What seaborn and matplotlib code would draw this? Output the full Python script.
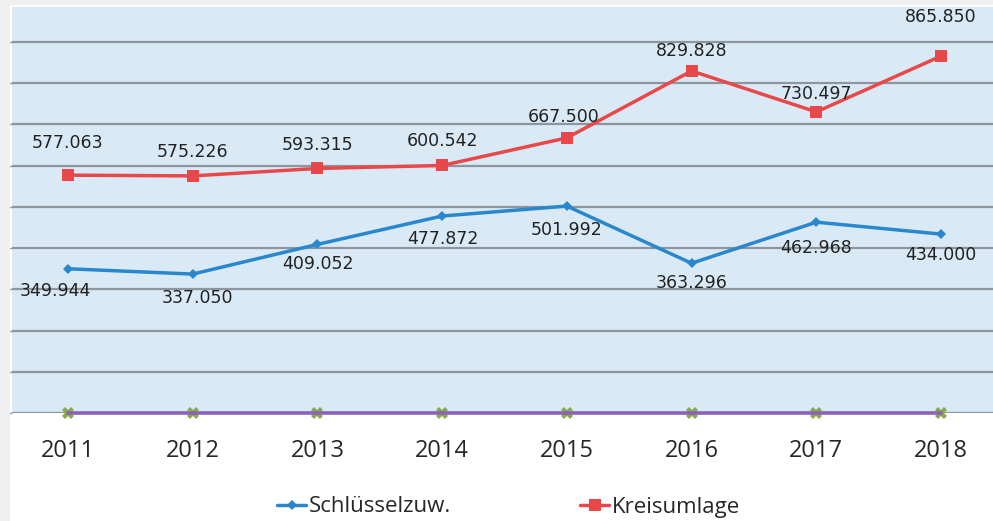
import matplotlib
matplotlib.use("Agg")
import matplotlib.pyplot as plt
from matplotlib.patches import Rectangle
import seaborn as sns
import pandas as pd

# chart data
years = [2011, 2012, 2013, 2014, 2015, 2016, 2017, 2018]
schluessel = [349.944, 337.050, 409.052, 477.872, 501.992, 363.296, 462.968, 434.000]
kreisumlage = [577.063, 575.226, 593.315, 600.542, 667.500, 829.828, 730.497, 865.850]
reihe3 = [0, 0, 0, 0, 0, 0, 0, 0]
reihe4 = [0, 0, 0, 0, 0, 0, 0, 0]

# label offsets in pixels (dx, dy), layout only
blue_off = [(-13, -22), (5, -24), (1, -20), (1, -23), (0, -24), (0, -20), (0, -26), (0, -21)]
red_off = [(0, 32), (0, 24), (0, 23), (0, 24), (-3, 21), (0, 20), (0, 18), (0, 39)]

sns.set_theme(style="white")
plt.rcParams['font.family'] = ['Open Sans', 'DejaVu Sans']

fig = plt.figure(figsize=(9.93, 5.21), dpi=100)
fig.patch.set_facecolor("white")
# light gray frame on the left and top edges
fig.patches.append(Rectangle((0, 0), 9 / 993, 1, transform=fig.transFigure,
                             color="#f0f0f0", zorder=0))
fig.patches.append(Rectangle((0, 1 - 4 / 521), 1, 4 / 521, transform=fig.transFigure,
                             color="#f0f0f0", zorder=0))

ax = fig.add_axes([12 / 993, 1 - 413 / 521, 1 - 12 / 993, (413 - 7) / 521])
ax.set_facecolor("#d9eaf6")

blue = "#2b87cc"
red = "#e8484a"

ax.set_yticks(range(0, 1000, 100))
ax.yaxis.grid(True, color="#8e959c", linewidth=1.6)
ax.set_axisbelow(True)

df = pd.DataFrame({"Jahr": years, "Schlüsselzuw.": schluessel,
                   "Kreisumlage": kreisumlage, "R3": reihe3, "R4": reihe4})

sns.lineplot(data=df, x="Jahr", y="R3", ax=ax, color="#8aa94a", linewidth=0,
             marker="X", markersize=8, markeredgewidth=0, clip_on=False, zorder=3)
sns.lineplot(data=df, x="Jahr", y="R4", ax=ax, color="#8a62b8", linewidth=2.6,
             clip_on=False, zorder=4)
sns.lineplot(data=df, x="Jahr", y="Schlüsselzuw.", ax=ax, color=blue, linewidth=2.5,
             marker="D", markersize=6, markeredgewidth=0, label="Schlüsselzuw.", zorder=5)
sns.lineplot(data=df, x="Jahr", y="Kreisumlage", ax=ax, color=red, linewidth=2.5,
             marker="s", markersize=10, markeredgewidth=0, label="Kreisumlage", zorder=5)

for yr, v, (dx, dy) in zip(years, schluessel, blue_off):
    ax.annotate(f"{v:.3f}", (yr, v), xytext=(dx * 0.72, dy * 0.72),
                textcoords="offset points", ha="center", va="center",
                fontsize=12.5, color="#222222", family="DejaVu Sans", zorder=6)
for yr, v, (dx, dy) in zip(years, kreisumlage, red_off):
    ax.annotate(f"{v:.3f}", (yr, v), xytext=(dx * 0.72, dy * 0.72),
                textcoords="offset points", ha="center", va="center",
                fontsize=12.5, color="#222222", family="DejaVu Sans", zorder=6)

ax.set_xlim(2011 - 0.449, 2018 + 0.417)
ax.set_ylim(0, 985)
ax.set_xticks(years)
ax.set_xticklabels([str(y) for y in years])
ax.set_yticklabels([])
ax.tick_params(axis="x", length=0, pad=19, labelsize=17, labelcolor="#262626")
ax.tick_params(axis="y", left=True, length=3, width=1, color="#8e959c")
ax.set_xlabel("")
ax.set_ylabel("")
for s in ax.spines.values():
    s.set_visible(False)

ax.legend_.remove()
handles, labels = ax.get_legend_handles_labels()
for h in handles:
    h.set_markersize(h.get_markersize() * 0.85)
fig.legend(handles, labels, loc="center", bbox_to_anchor=(508.5 / 993, 1 - 507 / 521),
           ncol=2, frameon=False, fontsize=16, handlelength=1.3, handletextpad=0.1,
           columnspacing=5.83, labelcolor="#262626")

fig.savefig("out.png", dpi=100)
